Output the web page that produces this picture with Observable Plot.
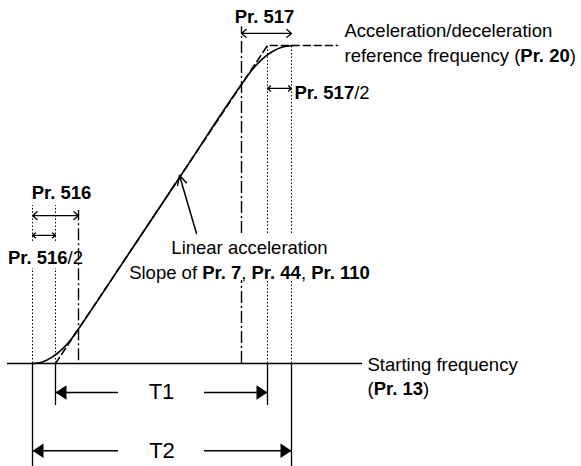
<!DOCTYPE html>
<html><head><meta charset="utf-8">
<script src="https://cdn.jsdelivr.net/npm/d3@7"></script>
<script src="https://cdn.jsdelivr.net/npm/@observablehq/plot@0.6"></script>
<style>body{margin:0;background:#fff}</style>
</head><body><div id="chart"></div>
<script>
// ---- data (time in arbitrary units, frequency in % of reference frequency) ----
const sCurveT = [0, 0.1, 0.2, 0.3, 0.4, 0.46, 1.0, 1.5, 2.10, 2.2, 2.3, 2.4, 2.5, 2.6];
const sCurveF = [0, 0.5, 2.1, 4.6, 8.2, 10.9, 36.3, 59.9, 88.2, 92.5, 95.8, 98.1, 99.5, 100];
const rampT = [0.23, 2.35, 3.05];
const rampF = [0, 100, 100];
// event times: start, T1 start, Pr.516 end, Pr.517 start, T1 end, T2 end
const eventT = [0, 0.23, 0.46, 2.09, 2.35, 2.59];
const labelText = [
  "**Pr. 517**",
  "Acceleration/deceleration",
  "reference frequency (**Pr. 20**)",
  "**Pr. 517**/2",
  "**Pr. 516**",
  "**Pr. 516**/2",
  "Linear acceleration",
  "Slope of **Pr. 7**, **Pr. 44**, **Pr. 110**",
  "Starting frequency",
  "(**Pr. 13**)"
];
const spanNames = ["T1", "T2"];

// ---- derived tables ----
const sCurve = sCurveT.map((t, i) => ({t, f: sCurveF[i]}));
const ramp = rampT.map((t, i) => ({t, f: rampF[i]}));
const [tS, tA, tB, tC, tD, tE] = eventT;

const labels = [
  {s: labelText[0], t: 2.32, f: 109.0, a: "middle"},
  {s: labelText[1], t: 3.12, f: 104.4, a: "start"},
  {s: labelText[2], t: 3.12, f: 96.6, a: "start"},
  {s: labelText[3], t: 2.62, f: 85.0, a: "start"},
  {s: labelText[4], t: 0.29, f: 53.6, a: "middle"},
  {s: labelText[5], t: 0.13, f: 33.3, a: "middle"},
  {s: labelText[6], t: 2.17, f: 36.2, a: "middle"},
  {s: labelText[7], t: 2.17, f: 28.3, a: "middle"},
  {s: labelText[8], t: 3.35, f: -0.6, a: "start"},
  {s: labelText[9], t: 3.35, f: -7.9, a: "start"}
];

// guide segments (broken where labels sit)
const guides = [
  {t: tS, y1: 0, y2: 29.9, k: "dot"}, {t: tS, y1: 38.4, y2: 49.7, k: "dot"},
  {t: tA, y1: 0, y2: 29.9, k: "dot"}, {t: tA, y1: 38.4, y2: 49.7, k: "dot"},
  {t: tB, y1: 0.9, y2: 48.1, k: "dd"},
  {t: tC, y1: 0, y2: 26.1, k: "dd"}, {t: tC, y1: 40.9, y2: 105.9, k: "dd"},
  {t: tD, y1: 0, y2: 26.1, k: "dot"}, {t: tD, y1: 40.9, y2: 100, k: "dot"},
  {t: tE, y1: 0, y2: 26.1, k: "dot"}, {t: tE, y1: 40.9, y2: 100, k: "dot"}
];

const spanY = [-9.1, -27.4];
const spans = [
  {name: spanNames[0], t1: tA, t2: tD, f: spanY[0]},
  {name: spanNames[1], t1: tS, t2: tE, f: spanY[1]}
];
const gapL = 0.86, gapR = 1.72;

// double arrows (drawn from midpoint outward)
const dbl = [
  {t1: tS, t2: tB, f: 46.5},
  {t1: tS, t2: tA, f: 40.3},
  {t1: tC, t2: tE, f: 103.8},
  {t1: tD, t2: tE, f: 86.5}
];
const halfArrows = dbl.flatMap(d => {
  const m = (d.t1 + d.t2) / 2;
  return [{x1: m, x2: d.t1, f: d.f}, {x1: m, x2: d.t2, f: d.f}];
});

const triLeft = {draw(ctx, size) { const r = Math.sqrt(size / Math.PI);
  ctx.moveTo(0, 0); ctx.lineTo(2.2 * r, -1.45 * r); ctx.lineTo(2.2 * r, 1.45 * r); ctx.closePath(); }};
const triRight = {draw(ctx, size) { const r = Math.sqrt(size / Math.PI);
  ctx.moveTo(0, 0); ctx.lineTo(-2.2 * r, -1.45 * r); ctx.lineTo(-2.2 * r, 1.45 * r); ctx.closePath(); }};

const dotted = "1.5,2";
const dashdot = "12,3,2,3";

const chart = Plot.plot({
  width: 581, height: 466, margin: 0,
  x: {domain: [-0.32, 5.49], axis: null},
  y: {domain: [-32.39, 114.15], axis: null},
  style: {fontFamily: "'Liberation Sans', Arial, sans-serif", fontSize: "18.5px", background: "white", color: "black"},
  marks: [
    // dotted / dash-dot guides above baseline
    Plot.ruleX(guides.filter(d => d.k === "dot"), {x: "t", y1: "y1", y2: "y2", stroke: "black", strokeWidth: 1, strokeDasharray: dotted}),
    Plot.ruleX(guides.filter(d => d.k === "dd"), {x: "t", y1: "y1", y2: "y2", stroke: "black", strokeWidth: 1.4, strokeDasharray: dashdot}),
    // solid extension lines below baseline
    Plot.ruleX([tA, tD], {x: d => d, y1: 0, y2: -13.2, stroke: "black", strokeWidth: 1.3}),
    Plot.ruleX([tS, tE], {x: d => d, y1: 0, y2: -32.4, stroke: "black", strokeWidth: 1.3}),
    // baseline (starting frequency)
    Plot.ruleY([0], {x1: -0.25, x2: 3.30, stroke: "black", strokeWidth: 1.5}),
    // linear ramp (dashed) and S-curve
    Plot.line(ramp, {x: "t", y: "f", stroke: "black", strokeWidth: 1.6, strokeDasharray: "7,4"}),
    Plot.line(sCurve, {x: "t", y: "f", stroke: "black", strokeWidth: 1.6, curve: "monotone-x"}),
    // double-headed dimension arrows
    Plot.arrow(halfArrows, {x1: "x1", x2: "x2", y1: "f", y2: "f", stroke: "black", strokeWidth: 1.3, headLength: 7, headAngle: 80}),
    // T1 / T2 span arrows
    Plot.ruleY(spans, {x1: "t1", x2: d => gapL, y: "f", stroke: "black", strokeWidth: 1.5}),
    Plot.ruleY(spans, {x1: d => gapR, x2: "t2", y: "f", stroke: "black", strokeWidth: 1.5}),
    Plot.dot(spans, {x: "t1", y: "f", symbol: triLeft, r: 5, fill: "black", stroke: "none"}),
    Plot.dot(spans, {x: "t2", y: "f", symbol: triRight, r: 5, fill: "black", stroke: "none"}),
    Plot.text(spans, {x: d => (d.t1 + d.t2) / 2, y: "f", text: "name", fontSize: 22, textAnchor: "middle"}),
    // pointer to the linear slope
    Plot.arrow([{x1: 1.64, y1: 40.9, x2: 1.47, y2: 59.1}], {x1: "x1", y1: "y1", x2: "x2", y2: "y2", stroke: "black", strokeWidth: 1.5, headLength: 10, headAngle: 55}),
    // labels
    Plot.text(labels.filter(d => d.a === "start"), {x: "t", y: "f", text: "s", textAnchor: "start", fontSize: 18.5, fill: "black"}),
    Plot.text(labels.filter(d => d.a === "middle"), {x: "t", y: "f", text: "s", textAnchor: "middle", fontSize: 18.5, fill: "black"})
  ]
});

// rich text: **bold** segments
d3.select(chart).selectAll("text").each(function() {
  const s = this.textContent;
  if (!s.includes("**")) return;
  const parts = s.split("**");
  this.textContent = "";
  parts.forEach((p, i) => {
    if (!p) return;
    const ts = document.createElementNS("http://www.w3.org/2000/svg", "tspan");
    ts.textContent = p;
    if (i % 2 === 1) ts.setAttribute("font-weight", "bold");
    this.appendChild(ts);
  });
});

document.getElementById("chart").appendChild(chart);
</script></body></html>
